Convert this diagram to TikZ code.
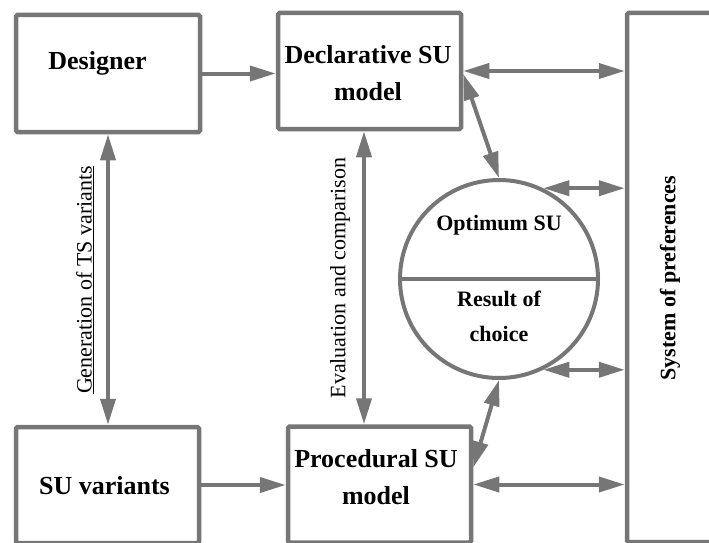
\documentclass[tikz,border=0pt]{standalone}
\usepackage{fontspec}
\setmainfont{Liberation Serif}
\usetikzlibrary{arrows.meta,calc}
\definecolor{linegray}{RGB}{118,118,118}

\begin{document}
\begin{tikzpicture}[x=1pt,y=-1pt,
	box/.style={draw=linegray,line width=4.5pt,rounded corners=1.5pt,inner sep=0pt},
	lbl/.style={font=\fontsize{26}{37}\selectfont\bfseries,align=center},
	small/.style={font=\fontsize{22}{35}\selectfont\bfseries,align=center},
	side/.style={font=\fontsize{22}{26}\selectfont,rotate=90},
	arr/.style={draw=linegray,line width=4pt,-{Triangle[length=26pt,width=15pt]}},
	dbl/.style={draw=linegray,line width=4pt,{Triangle[length=26pt,width=15pt]}-{Triangle[length=26pt,width=15pt]}}]
				\useasboundingbox (0,0) rectangle (709,543);
				
				% boxes
				\node[box,minimum width=184pt,minimum height=117pt] (designer) at (108,73.5) {};
				\node[box,minimum width=183pt,minimum height=116pt] (decl) at (369.5,71) {};
				\node[box,minimum width=183pt,minimum height=116pt] (variants) at (107.5,485) {};
				\node[box,minimum width=183pt,minimum height=116pt] (proc) at (379.5,484.5) {};
				\node[box,minimum width=140pt,minimum height=529pt] (pref) at (697,277.5) {};
				
				\node[draw=linegray,line width=4pt,circle,minimum size=198pt,inner sep=0pt] (circ) at (499,279) {};
				\draw[linegray,line width=4pt] (circ.west) -- (circ.east);
				
				% texts
				\node[lbl] (designer-t) at (97.5,63) {Designer};
				\node[lbl] (decl-t) at (368,73.5) {Declarative SU\\model};
				\node[lbl] (variants-t) at (104.5,486) {SU variants};
				\node[lbl] (proc-t) at (376,477.5) {Procedural SU\\model};
				\node[small] (opt-t) at (499,225) {Optimum SU};
				\node[small] (res-t) at (499,316) {Result of\\choice};
				\node[side,font=\fontsize{22}{26}\selectfont\bfseries] (pref-t) at (670,278) {System of preferences};
				\node[side] (gen-t) at (85,280) {\underline{Generation of TS variants}};
				\node[side] (eval-t) at (340,278) {Evaluation and comparison};
				
				% connectors
				\draw[arr] (designer.east) -- (designer.east -| decl.west);
				\draw[arr] (variants.east) -- (variants.east -| proc.west);
				\draw[dbl] (designer.south) -- (designer.south |- variants.north);
				\draw[dbl] ([xshift=-5.5pt]decl.south) -- ([xshift=-5.5pt]decl.south |- proc.north);
				\draw[dbl] (decl.east) -- (decl.east -| pref.west);
				\draw[dbl] ([yshift=-3pt]decl.east) -- (circ.north);
				\draw[dbl] (circ.64) -- (circ.64 -| pref.west);
				\draw[dbl] (circ.-64) -- (circ.-64 -| pref.west);
				\draw[dbl] ([yshift=17pt]proc.east) -- (circ.south);
				\draw[dbl] (proc.east) -- (proc.east -| pref.west);
			\end{tikzpicture}
\end{document}
